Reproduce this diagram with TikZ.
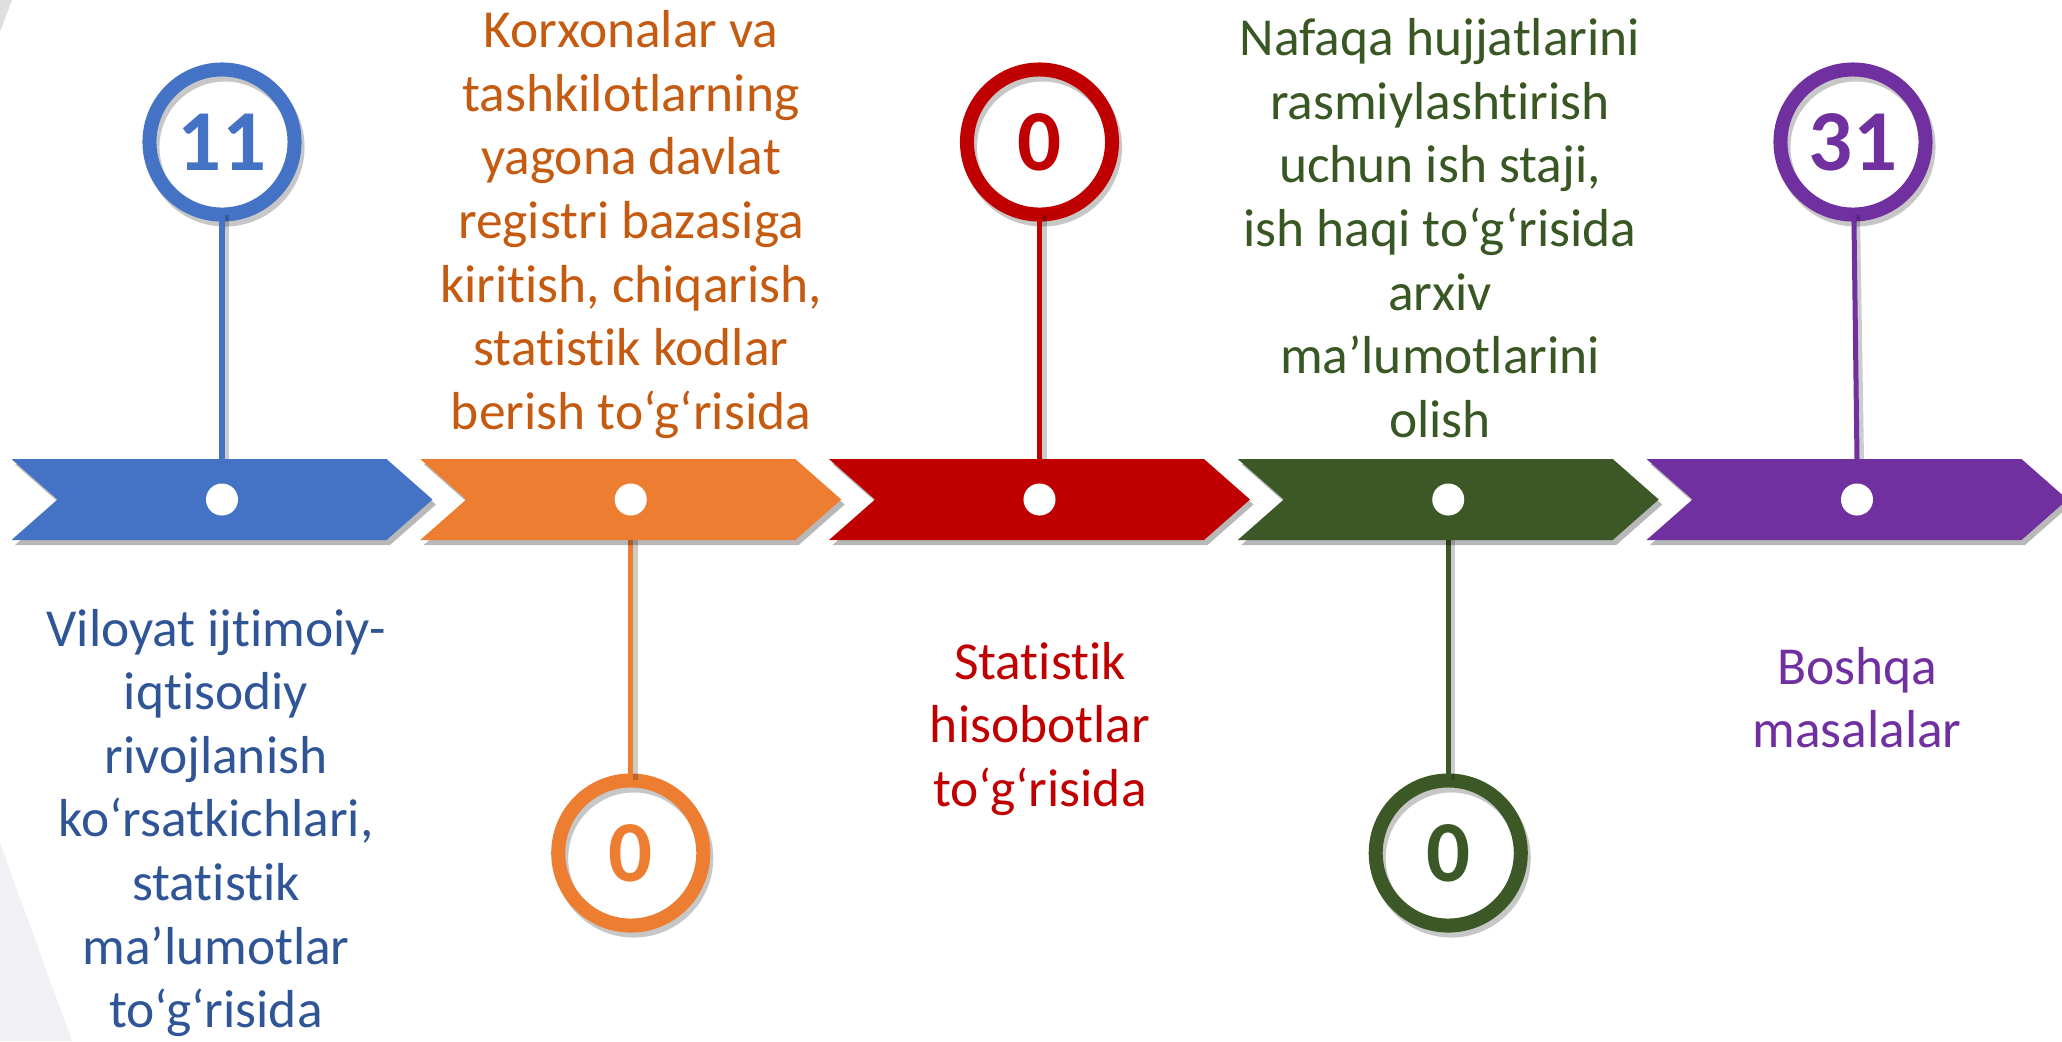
\documentclass[tikz,border=0pt]{standalone}
\usepackage{fontspec}
\setmainfont{Carlito}[RawFeature={-liga;-clig;-dlig}]
\usetikzlibrary{shadows}
\definecolor{cB}{HTML}{4472C4}
\definecolor{cO}{HTML}{ED7D31}
\definecolor{cR}{HTML}{C00000}
\definecolor{cG}{HTML}{3B5826}
\definecolor{cP}{HTML}{7030A0}
\definecolor{tB}{HTML}{2F5597}
\definecolor{tO}{HTML}{C55A11}
\definecolor{tR}{HTML}{C00000}
\definecolor{tG}{HTML}{385723}
\definecolor{tP}{HTML}{7030A0}
\definecolor{bgG}{HTML}{F1F1F5}
\newcommand\numfont{\fontsize{24.7}{28}\selectfont\bfseries}
\newcommand\lblfont{\fontsize{15.2}{18.1}\selectfont}
\newcommand\mkchevron[3]{%
  \fill[#2, chshadow] (#1-210.5,459) -- (#1+164.5,459) -- (#1+210.5,499.5) -- (#1+164.5,540) -- (#1-210.5,540) -- (#1-164.5,499.5) -- cycle;
  \node[dotn] (#3) at (#1,499.5) {};
}
\newcommand\mkring[5]{%
  \node[ringsh] at (#1+3,#2+5) {};
  \node[ring=#3] (#4) at (#1,#2) {#5};
}
\begin{document}
\begin{tikzpicture}[x=0.01cm,y=-0.01cm,
  chshadow/.style={drop shadow={shadow xshift=0.035cm, shadow yshift=-0.05cm, opacity=0.28, fill=black}},
  dotn/.style={circle, fill=white, minimum size=0.32cm, inner sep=0},
  ring/.style={circle, draw=#1, text=#1, line width=0.14cm, minimum size=1.45cm, inner sep=0, outer sep=0, font=\numfont},
  ringsh/.style={circle, draw=black, draw opacity=0.22, line width=0.14cm, minimum size=1.45cm, inner sep=0},
  stem/.style={line width=0.05cm, draw=#1},
  stemsh/.style={line width=0.05cm, draw=black, draw opacity=0.2},
  lbl/.style={align=center, font=\lblfont, inner sep=0}]
\useasboundingbox (0,0) rectangle (2062,1041);
\fill[white] (0,0) rectangle (2062,1041);
% faint background shapes at the left edge
\fill[bgG] (0,843) -- (72,1041) -- (0,1041) -- cycle;
\fill[gray!25] (0,0) -- (12,0) -- (0,32) -- cycle;
% chevron anchor coordinates
\coordinate (t1) at (222,459);
\coordinate (b2) at (630.75,540);
\coordinate (t3) at (1039.5,459);
\coordinate (b4) at (1448.25,540);
\coordinate (t5) at (1857,459);
% rings
\mkring{222}{142}{cB}{n1}{11}
\mkring{630.75}{853}{cO}{n2}{0}
\mkring{1039.5}{142}{cR}{n3}{0}
\mkring{1448.25}{853}{cG}{n4}{0}
\mkring{1853}{142}{cP}{n5}{31}
% stems
\draw[stemsh] ([xshift=0.045cm]n1.south) -- ([xshift=0.045cm]t1);
\draw[stemsh] ([xshift=0.045cm]b2) -- ([xshift=0.045cm]n2.north);
\draw[stemsh] ([xshift=0.045cm]n3.south) -- ([xshift=0.045cm]t3);
\draw[stemsh] ([xshift=0.045cm]b4) -- ([xshift=0.045cm]n4.north);
\draw[stemsh] ([xshift=0.045cm]n5.south) -- ([xshift=0.045cm]t5);
\draw[stem=cB] (n1) -- (t1);
\draw[stem=cO] (b2) -- (n2);
\draw[stem=cR] (n3) -- (t3);
\draw[stem=cG] (b4) -- (n4);
\draw[stem=cP] (n5) -- (t5);
% chevrons
\mkchevron{222}{cB}{d1}
\mkchevron{630.75}{cO}{d2}
\mkchevron{1039.5}{cR}{d3}
\mkchevron{1448.25}{cG}{d4}
\mkchevron{1857}{cP}{d5}
% labels
\node[lbl, text=tB] (l1) at (216,823) {Viloyat ijtimoiy-\\iqtisodiy\\rivojlanish\\ko‘rsatkichlari,\\statistik\\ma’lumotlar\\to‘g‘risida};
\node[lbl, text=tO] (l2) at (631,224.5) {Korxonalar va\\tashkilotlarning\\yagona davlat\\registri bazasiga\\kiritish, chiqarish,\\statistik kodlar\\berish to‘g‘risida};
\node[lbl, text=tR] (l3) at (1040,729) {Statistik\\hisobotlar\\to‘g‘risida};
\node[lbl, text=tG] (l4) at (1440,228) {Nafaqa hujjatlarini\\rasmiylashtirish\\uchun ish staji,\\ish haqi to‘g‘risida\\arxiv\\ma’lumotlarini\\olish};
\node[lbl, text=tP] (l5) at (1857,697.5) {Boshqa\\masalalar};
\end{tikzpicture}
\end{document}
